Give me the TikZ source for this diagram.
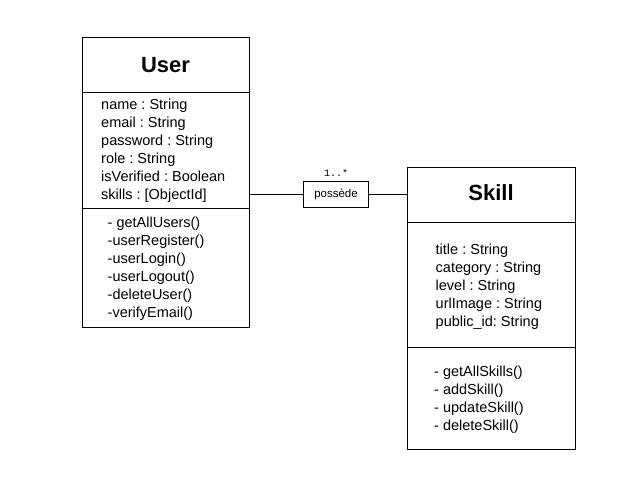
\documentclass[tikz,border=0pt]{standalone}
\usepackage{fontspec}
\setmainfont{Liberation Sans}
\newfontfamily\monofnt{Liberation Mono}
\frenchspacing
\tikzset{
  classbox/.style={draw=black, line width=1pt, fill=white, inner sep=0pt},
  sepline/.style={draw=black, line width=1pt},
  title/.style={font=\fontsize{22}{26}\selectfont\bfseries, inner sep=0pt, anchor=base},
  members/.style={font=\fontsize{14.5}{18}\selectfont\frenchspacing, align=left, inner sep=0pt, anchor=base west},
  assocbox/.style={draw=black, line width=1pt, fill=white, minimum width=65pt, minimum height=25pt, inner sep=0pt, font=\fontsize{11.5}{13}\selectfont},
  conn/.style={draw=black, line width=1pt},
  mult/.style={font=\monofnt\fontsize{10}{12}\selectfont, inner sep=0pt, anchor=base}
}
\begin{document}
\begin{tikzpicture}[x=1pt,y=-1pt]
\useasboundingbox[fill=white] (0,0) rectangle (642,497);
% User class
\node[classbox, minimum width=167pt, minimum height=290pt, anchor=north west] (user) at (82,37) {};
\draw[sepline] (82,93) -- (249,93);
\draw[sepline] (82,208) -- (249,208);
\node[title] (usert) at (165.5,72.7) {User};
% base anchor = baseline of the last line
\node[members] (usera) at (101,199.3) {name : String\\email : String\\password : String\\role : String\\isVerified : Boolean\\skills : [ObjectId]};
\node[members] (userm) at (107.5,317.7) {- getAllUsers()\\-userRegister()\\-userLogin()\\-userLogout()\\-deleteUser()\\-verifyEmail()};
% Skill class
\node[classbox, minimum width=168pt, minimum height=282pt, anchor=north west] (skill) at (407,167) {};
\draw[sepline] (407,222) -- (575,222);
\draw[sepline] (407,347) -- (575,347);
\node[title] (skillt) at (491,200.7) {Skill};
\node[members] (skilla) at (435.5,326.3) {title : String\\category : String\\level : String\\urlImage : String\\public\_id: String};
\node[members] (skillm) at (434,430.7) {- getAllSkills()\\- addSkill()\\- updateSkill()\\- deleteSkill()};
% association
\node[assocbox] (assoc) at (336,194.5) {possède};
\node[mult] (m1) at (336,176.7) {1..*};
\draw[conn] (assoc.west) -- (user.east |- assoc.west);
\draw[conn] (assoc.east) -- (skill.west |- assoc.east);
\end{tikzpicture}
\end{document}
